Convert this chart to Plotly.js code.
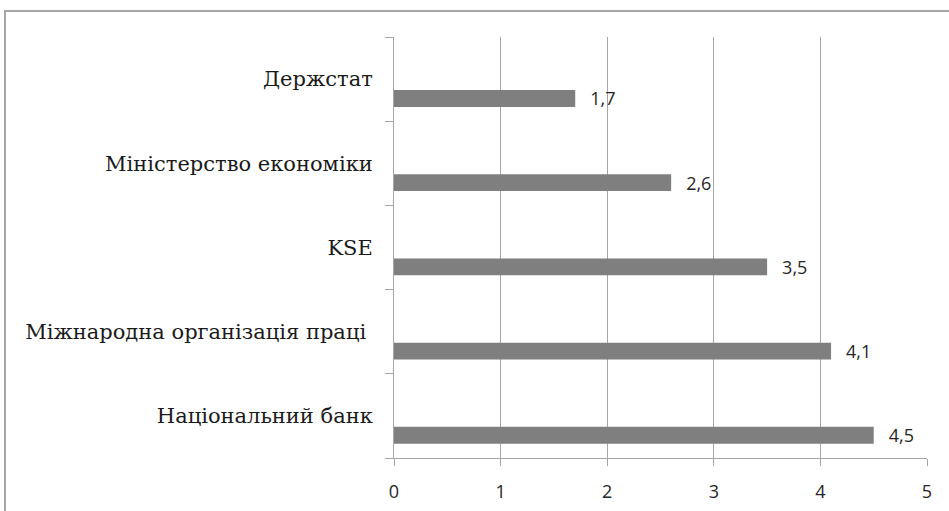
<!DOCTYPE html>
<html>
<head>
<meta charset="utf-8">
<script src="https://cdn.plot.ly/plotly-3.0.1.min.js"></script>
<style>
html, body { margin: 0; padding: 0; background: #fff; overflow: hidden; }
#frame { position: absolute; left: 4px; top: 10px; width: 1000px; height: 600px;
  border-left: 2px solid #a6a6a6; border-top: 2px solid #a6a6a6; pointer-events: none; }
#chart { position: absolute; left: 0; top: 0; width: 949px; height: 511px; }
</style>
</head>
<body>
<div id="chart"></div>
<div id="frame"></div>
<script>
// Data (bottom to top)
const categories = ["Національний банк", "Міжнародна організація праці\u00a0", "KSE", "Міністерство економіки", "Держстат"];
const values = [4.5, 4.1, 3.5, 2.6, 1.7];
const xTicks = [0, 1, 2, 3, 4, 5];

const labels = values.map(v => v.toString().replace('.', ','));

const trace = {
  type: 'bar',
  orientation: 'h',
  x: values,
  y: categories,
  width: 0.2,
  offset: -0.33,
  marker: { color: '#7f7f80', line: { width: 0 } },
  text: labels,
  textposition: 'outside',
  constraintext: 'none',
  texttemplate: '\u2002\u2009%{text}',
  textfont: { family: 'Open Sans', size: 18, color: '#262626' },
  cliponaxis: false,
  hoverinfo: 'none'
};

const layout = {
  width: 949, height: 511,
  margin: { l: 394, r: 22, t: 37, b: 53 },
  paper_bgcolor: '#fff', plot_bgcolor: '#fff',
  showlegend: false,
  xaxis: {
    range: [0, 5],
    tickvals: xTicks,
    ticktext: xTicks.map(String),
    showgrid: true, gridcolor: '#a6a6a6', gridwidth: 1,
    zeroline: false,
    showline: true, linecolor: '#a6a6a6', linewidth: 1,
    ticks: 'outside', ticklen: 7, tickcolor: '#a6a6a6',
    tickfont: { family: 'Open Sans', size: 18, color: '#262626' },
    ticklabelstandoff: 10,
    fixedrange: true
  },
  yaxis: {
    type: 'category',
    categoryorder: 'array', categoryarray: categories,
    range: [-0.5, 4.5],
    showgrid: false, zeroline: false,
    showline: true, linecolor: '#a6a6a6', linewidth: 1,
    ticks: 'outside', ticklen: 8, tickcolor: '#a6a6a6',
    tickson: 'boundaries',
    tickfont: { family: 'DejaVu Serif', size: 21, color: '#1a1a1a' },
    ticklabelstandoff: 16,
    fixedrange: true
  }
};

Plotly.newPlot('chart', [trace], layout, { staticPlot: true, displayModeBar: false });
</script>
</body>
</html>
